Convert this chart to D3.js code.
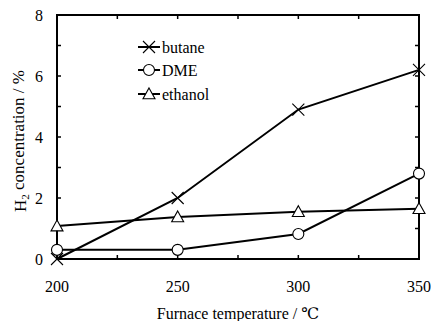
<!DOCTYPE html>
<html>
<head>
<meta charset="utf-8">
<script src="https://cdn.jsdelivr.net/npm/d3@7"></script>
<style>
  body { margin: 0; background: #fff; }
  svg { display: block; }
  svg text { font-family: "Liberation Serif", "Times New Roman", "DejaVu Serif", serif; }
</style>
</head>
<body>
<svg id="svg" width="431" height="321"></svg>
<script>
const temps = [200, 250, 300, 350]
const butane = [0.0, 2.0, 4.9, 6.2]
const dme = [0.3, 0.3, 0.82, 2.8]
const ethanol = [1.08, 1.38, 1.55, 1.65]
const seriesNames = ['butane', 'DME', 'ethanol']
const yTicks = [0, 2, 4, 6, 8]
const xTicks = [200, 250, 300, 350]

const $svg = d3.select('#svg')
const plotL = 57, plotR = 419, plotT = 15, plotB = 259

const x = d3.scaleLinear().domain([200, 350]).range([plotL, plotR])
const y = d3.scaleLinear().domain([0, 8]).range([plotB, plotT])

// frame ticks (inward)
const tickLen = 4
const frame = $svg.append('g').attr('stroke', '#000').attr('stroke-width', 1.5)
d3.range(200, 351, 25).forEach(v => {
	frame.append('line').attr('x1', x(v)).attr('x2', x(v)).attr('y1', plotB).attr('y2', plotB - tickLen)
	frame.append('line').attr('x1', x(v)).attr('x2', x(v)).attr('y1', plotT).attr('y2', plotT + tickLen)
})
d3.range(0, 9, 1).forEach(v => {
	frame.append('line').attr('x1', plotL).attr('x2', plotL + tickLen).attr('y1', y(v)).attr('y2', y(v))
	frame.append('line').attr('x1', plotR).attr('x2', plotR - tickLen).attr('y1', y(v)).attr('y2', y(v))
})
$svg.append('rect')
	.attr('x', plotL).attr('y', plotT)
	.attr('width', plotR - plotL).attr('height', plotB - plotT)
	.attr('fill', 'none').attr('stroke', '#000').attr('stroke-width', 2)

// tick labels
$svg.append('g').selectAll('text').data(yTicks).join('text')
	.attr('x', plotL - 14).attr('y', d => y(d)).attr('dy', '0.35em')
	.attr('text-anchor', 'end').attr('font-size', 16).text(d => d)
$svg.append('g').selectAll('text').data(xTicks).join('text')
	.attr('x', d => x(d)).attr('y', 286).attr('dy', '0.35em')
	.attr('text-anchor', 'middle').attr('font-size', 16).text(d => d)

// axis titles
$svg.append('text')
	.attr('x', (plotL + plotR) / 2).attr('y', 313).attr('dy', '0.35em')
	.attr('text-anchor', 'middle').attr('font-size', 16)
	.text('Furnace temperature / ℃')
const yTitle = $svg.append('text')
	.attr('transform', 'translate(20, 141) rotate(-90)')
	.attr('dy', '0.35em').attr('text-anchor', 'middle').attr('font-size', 17)
yTitle.append('tspan').text('H')
yTitle.append('tspan').attr('font-size', 11).attr('dy', '0.3em').text('2')
yTitle.append('tspan').attr('dy', '-0.3em').text(' concentration / %')

const drawMarker = (g, type, cx, cy) => {
	if (type === 'butane') {
		const s = 6
		g.append('path')
			.attr('d', `M${cx - s},${cy - s}L${cx + s},${cy + s}M${cx - s},${cy + s}L${cx + s},${cy - s}`)
			.attr('stroke', '#000').attr('stroke-width', 1.1).attr('fill', 'none')
	} else if (type === 'DME') {
		g.append('circle').attr('cx', cx).attr('cy', cy).attr('r', 5.5)
			.attr('fill', '#fff').attr('stroke', '#000').attr('stroke-width', 1.1)
	} else {
		const h = 6
		g.append('path')
			.attr('d', `M${cx},${cy - h}L${cx + h},${cy + h * 0.8}L${cx - h},${cy + h * 0.8}Z`)
			.attr('fill', '#fff').attr('stroke', '#000').attr('stroke-width', 1.1)
	}
}

const line = d3.line().x((d, i) => x(temps[i])).y(d => y(d))
const allSeries = [butane, dme, ethanol]
allSeries.forEach(vals => {
	$svg.append('path').attr('d', line(vals))
		.attr('fill', 'none').attr('stroke', '#000').attr('stroke-width', 2)
})
allSeries.forEach((vals, si) => {
	const g = $svg.append('g')
	vals.forEach((v, i) => drawMarker(g, seriesNames[si], x(temps[i]), y(v)))
})

// legend
const legendY = [47, 70, 94]
seriesNames.forEach((name, i) => {
	const g = $svg.append('g')
	g.append('line').attr('x1', 138).attr('x2', 160).attr('y1', legendY[i]).attr('y2', legendY[i])
		.attr('stroke', '#000').attr('stroke-width', 2)
	drawMarker(g, name, 149, legendY[i])
	g.append('text').attr('x', 162).attr('y', legendY[i]).attr('dy', '0.35em')
		.attr('font-size', 16).text(name)
})
</script>
</body>
</html>
